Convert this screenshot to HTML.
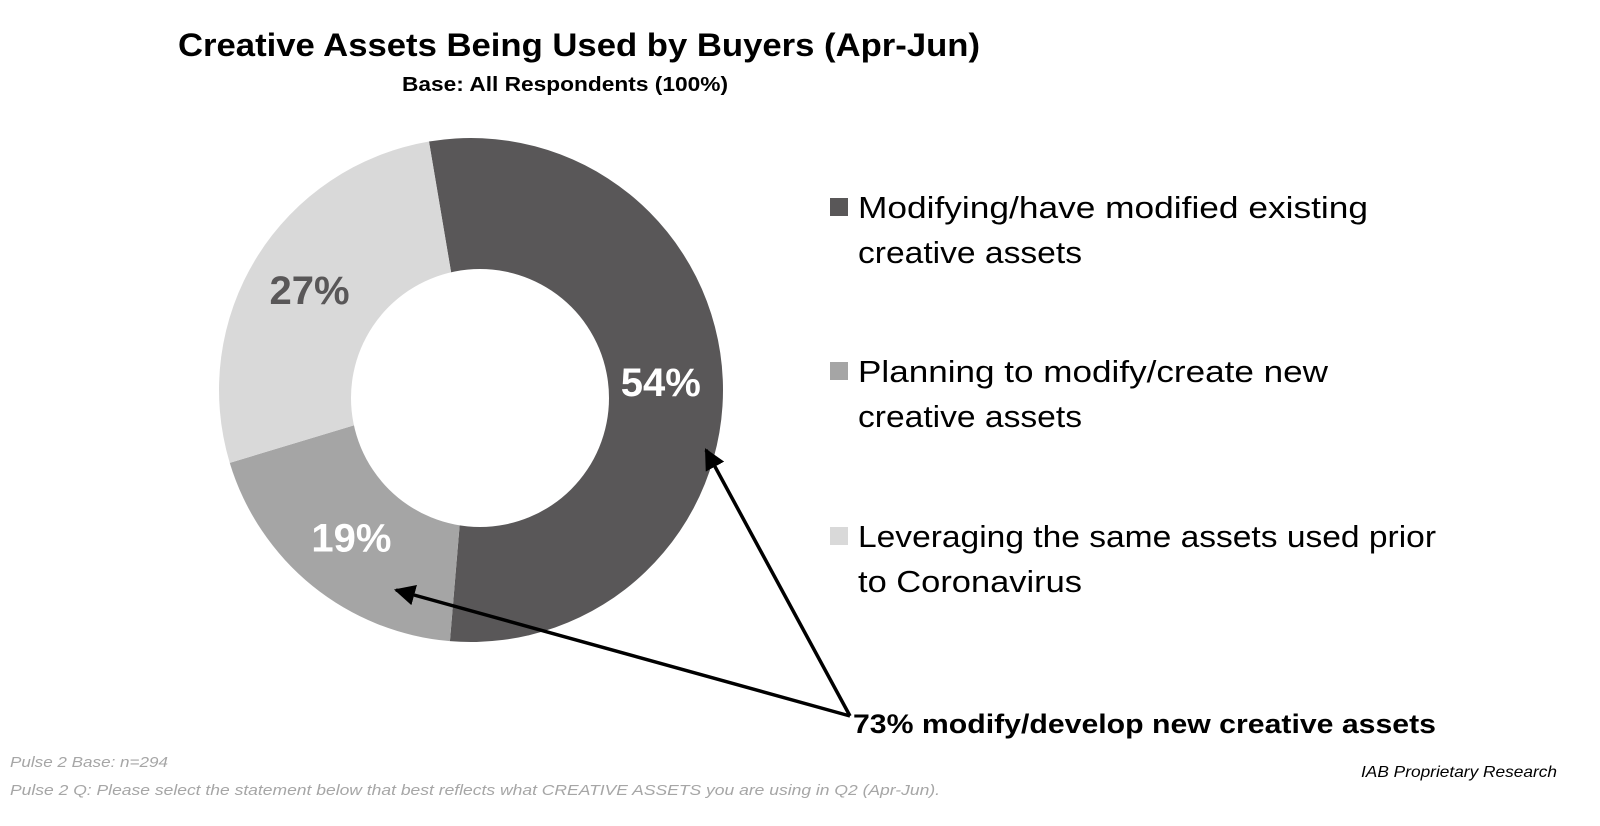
<!DOCTYPE html>
<html><head><meta charset="utf-8"><style>
html,body{margin:0;padding:0;background:#fff}
svg{display:block;font-family:"Liberation Sans",sans-serif}
</style></head><body>
<svg width="1600" height="826" viewBox="0 0 1600 826" xmlns="http://www.w3.org/2000/svg">
<defs><marker id="ah" viewBox="0 0 10 10" refX="9" refY="5" markerWidth="6" markerHeight="6" orient="auto"><path d="M0,0 L10,5 L0,10 z" fill="#000"/></marker></defs>
<text x="178" y="56" font-size="32" font-weight="bold" textLength="802" lengthAdjust="spacingAndGlyphs">Creative Assets Being Used by Buyers (Apr-Jun)</text>
<text x="402" y="91" font-size="20" font-weight="bold" textLength="326" lengthAdjust="spacingAndGlyphs">Base:  All Respondents (100%)</text>
<g id="donut"></g>
<g>
<rect x="830" y="198" width="18" height="18" fill="#595758"/>
<text font-size="31" fill="#000"><tspan x="858" y="218" textLength="510" lengthAdjust="spacingAndGlyphs">Modifying/have modified existing</tspan><tspan x="858" y="263" textLength="224" lengthAdjust="spacingAndGlyphs">creative assets</tspan></text>
<rect x="830" y="362" width="18" height="18" fill="#a5a5a5"/>
<text font-size="31"><tspan x="858" y="382" textLength="470" lengthAdjust="spacingAndGlyphs">Planning to modify/create new</tspan><tspan x="858" y="427" textLength="224" lengthAdjust="spacingAndGlyphs">creative assets</tspan></text>
<rect x="830" y="527" width="18" height="18" fill="#d9d9d9"/>
<text font-size="31"><tspan x="858" y="547" textLength="578" lengthAdjust="spacingAndGlyphs">Leveraging the same assets used prior</tspan><tspan x="858" y="592" textLength="224" lengthAdjust="spacingAndGlyphs">to Coronavirus</tspan></text>
</g>
<line x1="850" y1="716" x2="706" y2="450" stroke="#000" stroke-width="3.5" marker-end="url(#ah)"/>
<line x1="850" y1="716" x2="396" y2="590" stroke="#000" stroke-width="3.5" marker-end="url(#ah)"/>
<text x="853" y="733" font-size="27" font-weight="bold" textLength="583" lengthAdjust="spacingAndGlyphs">73% modify/develop new creative assets</text>
<text x="10" y="767" font-size="15" font-style="italic" fill="#a6a6a6" textLength="158" lengthAdjust="spacingAndGlyphs">Pulse 2 Base: n=294</text>
<text x="10" y="795" font-size="15" font-style="italic" fill="#a6a6a6" textLength="930" lengthAdjust="spacingAndGlyphs">Pulse 2 Q: Please select the statement below that best reflects what CREATIVE ASSETS you are using in Q2 (Apr-Jun).</text>
<text x="1557" y="777" font-size="16" font-style="italic" text-anchor="end" textLength="196" lengthAdjust="spacingAndGlyphs">IAB Proprietary Research</text>
</svg>
<script>
const categories=["Modifying/have modified existing creative assets","Planning to modify/create new creative assets","Leveraging the same assets used prior to Coronavirus"];
const values=[54,19,27];
const labels=["54%","19%","27%"];
const colors=["#595758","#a5a5a5","#d9d9d9"];
const labelColors=["#fff","#fff","#595758"];
const g=document.getElementById('donut');
const ns="http://www.w3.org/2000/svg";
const cx=471,cy=390,R=252,startDeg=-9.6;
const total=values.reduce((a,b)=>a+b,0);
function pt(deg,r){const a=deg*Math.PI/180;return [cx+r*Math.sin(a),cy-r*Math.cos(a)];}
let acc=startDeg;
values.forEach((v,i)=>{
 const sweep=v/total*360,a0=acc,a1=acc+sweep;acc=a1;
 const p0=pt(a0,R),p1=pt(a1,R);
 const path=document.createElementNS(ns,'path');
 path.setAttribute('d',`M${cx},${cy} L${p0[0]},${p0[1]} A${R},${R} 0 ${sweep>180?1:0} 1 ${p1[0]},${p1[1]} Z`);
 path.setAttribute('fill',colors[i]);
 
 
 g.appendChild(path);
 const m=(a0+a1)/2,lp=pt(m,190);
 const t=document.createElementNS(ns,'text');
 t.setAttribute('x',lp[0]);t.setAttribute('y',lp[1]+14);
 t.setAttribute('text-anchor','middle');t.setAttribute('font-size','40');t.setAttribute('font-weight','bold');
 t.setAttribute('fill',labelColors[i]);
 
 
 t.textContent=labels[i];
 g._labels=(g._labels||[]);g._labels.push(t);
});
const hole=document.createElementNS(ns,'circle');
hole.setAttribute('cx',480);hole.setAttribute('cy',398);hole.setAttribute('r',129);hole.setAttribute('fill','#fff');


g.appendChild(hole);
g._labels.forEach(t=>g.appendChild(t));
</script>
</body></html>
